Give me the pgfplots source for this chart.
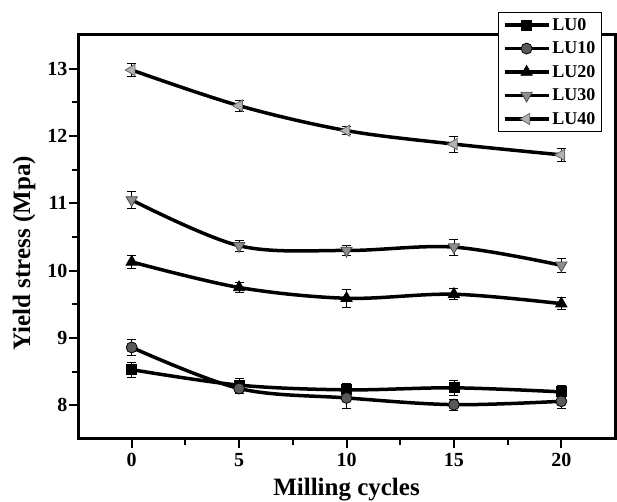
\documentclass[border=0pt]{standalone}
\usepackage{fontspec}
\setmainfont{Liberation Serif}
\usepackage{pgfplots}
\pgfplotsset{compat=1.18}
\begin{document}
\begin{tikzpicture}
\begin{axis}[
  at={(78pt,63pt)}, anchor=south west,
  scale only axis, width=537pt, height=404pt,
  xmin=-2.5, xmax=22.5, ymin=7.5, ymax=13.5,
  xtick={0,5,10,15,20}, ytick={8,9,10,11,12,13},
  minor x tick num=1, minor y tick num=1,
  tick align=outside, xtick pos=bottom, ytick pos=left,
  major tick length=9pt, minor tick length=6pt,
  tick style={line width=2pt, black},
  axis line style={line width=3pt},
  /pgf/number format/assume math mode=true,
  ticklabel style={font=\fontsize{20}{22}\selectfont\bfseries},
  xticklabel style={yshift=-2pt},
  yticklabel style={xshift=2pt},
  xlabel={Milling cycles}, ylabel={Yield stress (Mpa)},
  label style={font=\fontsize{25}{28}\selectfont\bfseries},
  xlabel style={at={(axis description cs:0.5,-0.141)}, anchor=base},
  ylabel style={at={(axis description cs:-0.089,0.46)}, anchor=base},
  legend style={at={(0.782,1.057)}, anchor=north west, draw=black, line width=0.8pt,
    font=\fontsize{18}{20}\selectfont\bfseries, row sep=6pt, inner xsep=4.5pt, inner ysep=4pt,
    legend cell align=left},
  legend image code/.code={\draw[#1, mark repeat=2, mark phase=2] plot coordinates {(0pt,0pt) (22pt,0pt) (44pt,0pt)};},
  every axis plot/.append style={line width=3.5pt, black, smooth, tension=0.55},
  error bars/y dir=both, error bars/y explicit,
  error bars/error bar style={line width=0.8pt, black},
  error bars/error mark options={rotate=90, mark size=4.5pt, line width=0.8pt, black},
]
\addplot[mark=square*, mark options={fill=black, mark size=5pt, line width=0.8pt, solid}]
  coordinates {(0,8.53) +- (0,0.11) (5,8.30) +- (0,0.10) (10,8.23) +- (0,0.10) (15,8.26) +- (0,0.11) (20,8.20) +- (0,0.10)};
\addlegendentry{LU0}
\addplot[mark=*, mark options={fill=black!65, draw=black, mark size=5.5pt, line width=0.8pt, solid}]
  coordinates {(0,8.86) +- (0,0.12) (5,8.25) +- (0,0.08) (10,8.11) +- (0,0.16) (15,8.01) +- (0,0.08) (20,8.06) +- (0,0.11)};
\addlegendentry{LU10}
\addplot[mark=triangle*, mark options={fill=black, mark size=6.5pt, line width=0.8pt, solid}]
  coordinates {(0,10.13) +- (0,0.10) (5,9.75) +- (0,0.08) (10,9.59) +- (0,0.13) (15,9.65) +- (0,0.08) (20,9.51) +- (0,0.09)};
\addlegendentry{LU20}
\addplot[mark=triangle*, mark options={rotate=180, fill=black!45, draw=black!70, mark size=6.5pt, line width=0.8pt, solid}]
  coordinates {(0,11.05) +- (0,0.12) (5,10.37) +- (0,0.08) (10,10.30) +- (0,0.07) (15,10.35) +- (0,0.12) (20,10.08) +- (0,0.10)};
\addlegendentry{LU30}
\addplot[mark=triangle*, mark options={rotate=90, fill=black!30, draw=black!60, mark size=6.5pt, line width=0.8pt, solid}]
  coordinates {(0,12.98) +- (0,0.10) (5,12.45) +- (0,0.08) (10,12.08) +- (0,0.06) (15,11.88) +- (0,0.12) (20,11.72) +- (0,0.09)};
\addlegendentry{LU40}
\end{axis}
\pgfresetboundingbox
\path[use as bounding box] (0,0) rectangle (617pt,502pt);
\end{tikzpicture}
\end{document}
